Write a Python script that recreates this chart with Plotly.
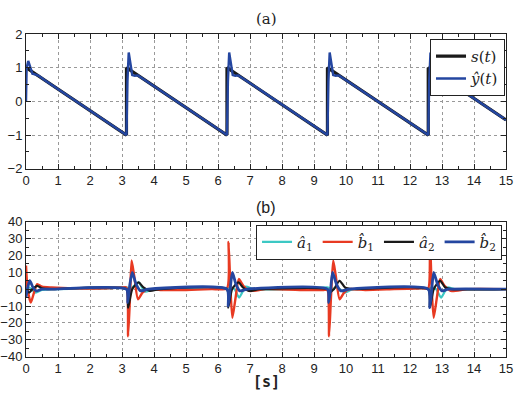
import plotly.graph_objects as go

# ---- data ----
s_t = [0, 3.14, 3.14, 6.28, 6.28, 9.42, 9.42, 12.57, 12.57, 15]
s_v = [1, -1, 1, -1, 1, -1, 1, -1, 1, -0.55]

yhat_t = [0, 0.02, 0.07, 0.13, 0.2, 0.28, 0.4, 0.6,
          3.14, 3.17, 3.21, 3.26, 3.32, 3.4, 3.5, 3.7,
          6.28, 6.31, 6.35, 6.40, 6.46, 6.54, 6.64, 6.84,
          9.42, 9.45, 9.49, 9.54, 9.60, 9.68, 9.78, 9.98,
          12.57, 12.60, 12.64, 12.69, 12.75, 12.83, 12.93, 13.13,
          15]
yhat_v = [0, 1.0, 1.2, 1.05, 0.82, 0.8, 0.76, 0.62,
          -1, 0.6, 1.45, 1.15, 0.78, 0.76, 0.77, 0.645,
          -1, 0.6, 1.45, 1.15, 0.78, 0.76, 0.77, 0.645,
          -1, 0.6, 1.45, 1.15, 0.78, 0.76, 0.77, 0.645,
          -1, 0.6, 1.45, 1.15, 0.78, 0.76, 0.77, 0.645,
          -0.55]

# parameter estimates
a1_t = [0, 0.1, 0.3, 0.5, 0.8, 2.5, 3.0, 3.16, 3.24, 3.38, 3.52, 3.72, 3.92, 4.2,
        6.0, 6.3, 6.42, 6.52, 6.66, 6.87, 7.1, 9.0, 9.44, 9.52, 9.72, 9.97, 10.2,
        12.3, 12.59, 12.72, 12.82, 12.97, 13.17, 13.4, 15]
a1_v = [0, 1, -2, -0.5, 0, 0.5, 1, 1, 0, 2, 4, -1.5, -0.5, 0,
        0.5, 0.5, 1, 0, -5, 1.5, 0, 0.5, 1, 0, 1, -2, 0,
        0.5, 0.5, 1, 0, -5, 1, 0, 0]
b1_t = [0, 0.05, 0.15, 0.25, 0.35, 0.5, 0.8, 1.5, 2.5, 3.0, 3.14, 3.19, 3.25, 3.3, 3.38, 3.5, 3.64, 3.82, 4.2, 5.0, 5.8,
        6.28, 6.33, 6.39, 6.45, 6.55, 6.65, 6.79, 6.97, 7.5,
        8.8, 9.3, 9.42, 9.47, 9.53, 9.6, 9.68, 9.8, 9.94, 10.12, 10.6, 11.5,
        12.4, 12.57, 12.62, 12.68, 12.74, 12.84, 12.94, 13.08, 13.27, 13.8, 15]
b1_v = [14, 0, -8, -2, 3, 1.5, 1, 0.5, 0.5, 1, 1, -28, -5, 17, 8, -6, -2, 0, -0.5, -0.5, 0,
        0.5, 28, 0, -17, -5, 6, 2, -1, 0,
        -0.5, -0.5, -0.5, -28, -5, 17, 8, -6, -2, 0, -0.5, 0,
        0.5, 0.5, 31, 0, -17, -5, 6, 2, -1, 0, 0]
a2_t = [0, 0.1, 0.2, 0.35, 0.5, 0.8, 3.14, 3.19, 3.32, 3.52, 3.67, 3.87, 4.2,
        6.28, 6.32, 6.44, 6.64, 6.78, 6.97, 7.3,
        9.42, 9.47, 9.62, 9.8, 9.97, 10.2,
        12.57, 12.62, 12.74, 12.94, 13.1, 13.3, 15]
a2_v = [0, -2, 0, 2, 0.5, 0, 0, -11, 0, 4, 1, -1, 0,
        0, -11, 0, 4, 1, -1, 0,
        0, -2, 0, 5, 1, 0,
        0, -11, 0, 5, 1, 0, 0]
b2_t = [0, 0.04, 0.12, 0.22, 0.32, 0.5, 0.8, 3.14, 3.18, 3.24, 3.32, 3.44, 3.58, 3.82,
        6.28, 6.32, 6.38, 6.45, 6.56, 6.68, 6.92,
        9.42, 9.46, 9.52, 9.58, 9.7, 9.84, 10.1,
        12.57, 12.62, 12.68, 12.74, 12.86, 13.0, 13.2, 15]
b2_v = [-5, 0, 5, 1, -1, 0, 0, 0, -8, 2, 10, 3, -1, 0,
        0, -10, 0, 10, 3, -1, 0,
        0, -8, 0, 10, 3, -1, 0,
        0, -11, 0, 10, 3, -1, 0, 0]

x_ticks = list(range(0, 16))
y1_ticks = [-2, -1, 0, 1, 2]
y2_ticks = list(range(-40, 41, 10))

SERIF = "DejaVu Serif"
SANS = "Liberation Sans"
MONO = "DejaVu Sans Mono"

# ---- figure ----
fig = go.Figure()
fig.add_trace(go.Scatter(x=s_t, y=s_v, mode="lines", name="<i>s</i>(<i>t</i>)",
                         line=dict(color="#1a1a1a", width=3.2), xaxis="x", yaxis="y", legend="legend"))
fig.add_trace(go.Scatter(x=yhat_t, y=yhat_v, mode="lines", name="<i>ŷ</i>(<i>t</i>)",
                         line=dict(color="#2446a0", width=2.4), xaxis="x", yaxis="y", legend="legend"))

sp = dict(shape="spline", smoothing=0.6)
fig.add_trace(go.Scatter(x=a1_t, y=a1_v, mode="lines", name="<i>â</i><sub>1</sub>",
                         line=dict(color="#3cc8c4", width=2.2, **sp), xaxis="x2", yaxis="y2", legend="legend2"))
fig.add_trace(go.Scatter(x=b1_t, y=b1_v, mode="lines", name="<i>b\u0302</i><sub>1</sub>",
                         line=dict(color="#e83a22", width=2.4, **sp), xaxis="x2", yaxis="y2", legend="legend2"))
fig.add_trace(go.Scatter(x=a2_t, y=a2_v, mode="lines", name="<i>â</i><sub>2</sub>",
                         line=dict(color="#1a1a1a", width=2.2, **sp), xaxis="x2", yaxis="y2", legend="legend2"))
fig.add_trace(go.Scatter(x=b2_t, y=b2_v, mode="lines", name="<i>b\u0302</i><sub>2</sub>",
                         line=dict(color="#2446a0", width=2.8, **sp), xaxis="x2", yaxis="y2", legend="legend2"))

W, H = 514, 406
L, R = 22, 8
def py(pix):
    return 1 - pix / H

tickfont = dict(family=SANS, size=13, color="#222")
axcommon = dict(showline=True, linecolor="#222", linewidth=1, mirror="ticks",
                ticks="inside", ticklen=5, tickcolor="#222",
                showgrid=True, gridcolor="#999999", griddash="dot", gridwidth=1,
                zeroline=False, tickfont=tickfont,
                minor=dict(ticks="inside", ticklen=3, tickcolor="#222", showgrid=False))

fig.update_layout(
    width=W, height=H,
    margin=dict(l=L, r=R, t=0, b=0),
    paper_bgcolor="white", plot_bgcolor="white",
    showlegend=True,
    xaxis=dict(domain=[0, 1], range=[0, 15], tickvals=x_ticks, anchor="y",
               minor_dtick=0.5, **axcommon),
    yaxis=dict(domain=[py(168), py(28)], range=[-2, 2], tickvals=y1_ticks, anchor="x",
               minor_dtick=0.5, **axcommon),
    xaxis2=dict(domain=[0, 1], range=[0, 15], tickvals=x_ticks, anchor="y2",
                minor_dtick=0.5, **axcommon),
    yaxis2=dict(domain=[py(363), py(223)], range=[-40, 40], tickvals=y2_ticks, anchor="x2",
                minor_dtick=5, **axcommon),
    legend=dict(x=(505 - L) / (W - L - R), y=py(33), xanchor="right", yanchor="top",
                bgcolor="white", bordercolor="#222", borderwidth=1,
                font=dict(family=SERIF, size=15, color="#222"),
                tracegroupgap=0, itemwidth=30),
    legend2=dict(x=(502 - L) / (W - L - R), y=py(226), xanchor="right", yanchor="top",
                 orientation="h", bgcolor="white", bordercolor="#222", borderwidth=1,
                 font=dict(family=SERIF, size=15, color="#222"),
                 itemwidth=30),
    annotations=[
        dict(text="(a)", x=0.5, y=py(12), xref="paper", yref="paper", showarrow=False,
             xanchor="center", yanchor="middle",
             font=dict(family=SERIF, size=15, color="#222")),
        dict(text="(b)", x=0.5, y=py(208), xref="paper", yref="paper", showarrow=False,
             xanchor="center", yanchor="middle",
             font=dict(family=SANS, size=16, color="#222")),
        dict(text="<b>[s]</b>", x=0.5, y=py(389), xref="paper", yref="paper", showarrow=False,
             xanchor="center", yanchor="middle",
             font=dict(family=MONO, size=15, color="#222")),
    ],
)

fig.write_html("out.html")
